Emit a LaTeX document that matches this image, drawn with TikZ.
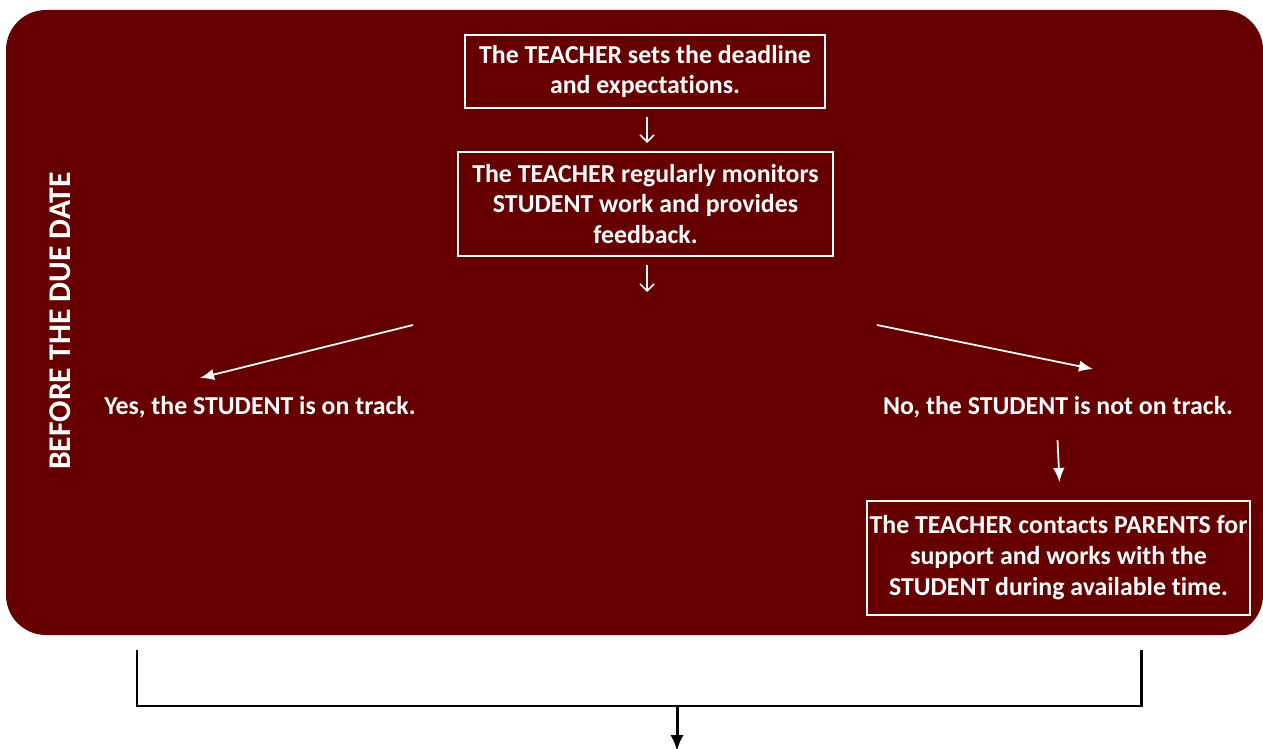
\documentclass[tikz,border=0pt]{standalone}
\usepackage{fontspec}
\setmainfont{Carlito}[Ligatures=NoCommon]
\usetikzlibrary{arrows.meta}
\definecolor{duered}{RGB}{102,0,0}
\tikzset{
  stepbox/.style={draw=white, line width=0.9pt, align=center, text=white, font=\fontsize{14.7}{17.6}\selectfont\bfseries, inner sep=1pt},
  label/.style={text=white, font=\fontsize{14.7}{17.6}\selectfont\bfseries},
  wline/.style={-{Latex[length=8pt,width=6.5pt]}, white, line width=1pt},
  wdown/.style={-{Straight Barb[length=4pt,width=8pt]}, white, line width=0.9pt},
  bline/.style={line width=1.7pt, black}
}
\begin{document}
\begin{tikzpicture}[x=0.02cm, y=-0.02cm]
  \useasboundingbox (0,0) rectangle (1263,749);
  \fill[duered, rounded corners=0.8cm] (6,10) rectangle (1263,635);
  \node[white, rotate=90, font=\fontsize{18}{20}\selectfont\bfseries] (phase) at (60,321) {BEFORE THE DUE DATE};
  \node[stepbox, minimum width=7.2cm, minimum height=1.46cm] (deadline) at (645,71.5) {The TEACHER sets the deadline\\and expectations.};
  \node[stepbox, minimum width=7.5cm, minimum height=2.08cm] (monitor) at (645.5,204) {The TEACHER regularly monitors\\STUDENT work and provides\\feedback.};
  \node[label] (yes) at (260,407) {Yes, the STUDENT is on track.};
  \node[label] (no) at (1058,407) {No, the STUDENT is not on track.};
  \node[stepbox, inner xsep=0pt, minimum width=7.66cm, minimum height=2.28cm] (contact) at (1058.5,558) {The TEACHER contacts PARENTS for\\support and works with the\\STUDENT during available time.};
  \coordinate (split) at (647,292);
  \coordinate (yesfrom) at (413,325);
  \coordinate (yesto) at (200,378);
  \coordinate (nofrom) at (877,325);
  \coordinate (noto) at (1093,369);
  \draw[wdown] (647,117) -- (647,143);
  \draw[wdown] (647,265) -- (split);
  \draw[wline] (yesfrom) -- (yesto);
  \draw[wline] (nofrom) -- (noto);
  \draw[wline] (1057.5,440) -- (1059.5,482);
  % joining both outcomes below the panel
  \coordinate (joinl) at (137,650);
  \coordinate (joinr) at (1141,650);
  \draw[bline] (joinl) |- (677,706) -| (joinr);
  \draw[bline, -{Latex[length=9pt,width=7.5pt]}] (677,706) -- (677,751);
\end{tikzpicture}
\end{document}
